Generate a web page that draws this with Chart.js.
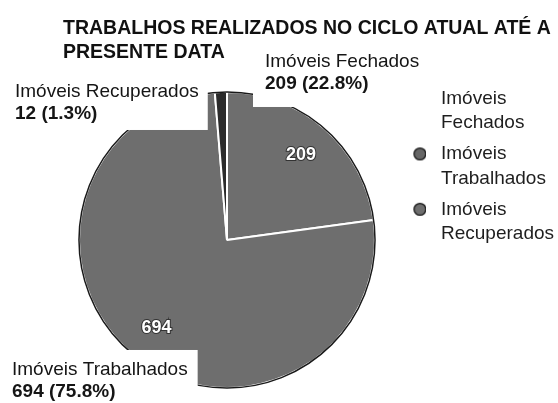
<!DOCTYPE html>
<html>
<head>
<meta charset="utf-8">
<script src="https://cdn.jsdelivr.net/npm/chart.js@4.4.1/dist/chart.umd.min.js"></script>
<style>
  html, body { margin: 0; padding: 0; background: #fff; }
  #wrap { width: 558px; height: 403px; }
</style>
</head>
<body>
<div id="wrap"><canvas id="cicloChart" width="558" height="403"></canvas></div>
<script>
const categorias = ['Imóveis Fechados', 'Imóveis Trabalhados', 'Imóveis Recuperados'];
const quantidades = [209, 694, 12];
const legendaLinhas = [['Imóveis', 'Fechados'], ['Imóveis', 'Trabalhados'], ['Imóveis', 'Recuperados']];
const tituloLinhas = ['TRABALHOS REALIZADOS NO CICLO ATUAL ATÉ A', 'PRESENTE DATA'];

const corFatia = ['#6e6e6e', '#6e6e6e', '#2b2b2b'];
const FONTE = '"Liberation Sans", Arial, sans-serif';
const TAM = 19;

const total = quantidades.reduce((a, b) => a + b, 0);
const pct = v => (v / total * 100).toFixed(1) + '%';

// caixas dos rótulos externos: deslocamento do texto em relação ao centro da pizza
// pad = [cima, direita, baixo, esquerda]
const caixasRotulo = [
    { dx: 38, dy: -173, pad: [10, 12, 14, 12] },
    { dx: -215, dy: 135, pad: [12, 10, 8, 12] },
    { dx: -212, dy: -143, pad: [10, 9, 7, 12] }
];

// marcador da legenda: círculo deslocado dentro de uma imagem mais larga
function marcador(cor) {
    const c = document.createElement('canvas');
    c.width = 24;
    c.height = 15;
    if (cor) {
        const g = c.getContext('2d');
        g.beginPath();
        g.arc(17.75, 7.5, 5.9, 0, Math.PI * 2);
        g.fillStyle = cor;
        g.fill();
        g.lineWidth = 1.4;
        g.strokeStyle = '#1a1a1a';
        g.stroke();
    }
    return c;
}
const marcadores = [marcador(null), marcador('#666666'), marcador('#6e6e6e')];

const rotulosPizza = {
    id: 'rotulosPizza',
    afterDatasetsDraw(chart) {
        const ctx = chart.ctx;
        const arcos = chart.getDatasetMeta(0).data;
        const { x: cx, y: cy, outerRadius: r } = arcos[0].getProps(['x', 'y', 'outerRadius'], true);

        // contorno escuro da pizza
        ctx.save();
        ctx.beginPath();
        ctx.arc(cx, cy, r, 0, Math.PI * 2);
        ctx.lineWidth = 1.5;
        ctx.strokeStyle = '#1a1a1a';
        ctx.stroke();

        // valores dentro das fatias maiores
        ctx.font = 'bold 18px ' + FONTE;
        ctx.textAlign = 'center';
        ctx.textBaseline = 'middle';
        arcos.forEach((arc, i) => {
            if (quantidades[i] / total < 0.05) return;
            const p = arc.getProps(['startAngle', 'endAngle'], true);
            const meio = (p.startAngle + p.endAngle) / 2;
            const tx = cx + Math.cos(meio) * r * 0.76;
            const ty = cy + Math.sin(meio) * r * 0.76;
            ctx.lineWidth = 2;
            ctx.strokeStyle = '#333';
            ctx.strokeText(String(quantidades[i]), tx, ty);
            ctx.fillStyle = '#fff';
            ctx.fillText(String(quantidades[i]), tx, ty);
        });

        // rótulos externos com fundo branco
        ctx.textAlign = 'left';
        ctx.textBaseline = 'alphabetic';
        caixasRotulo.forEach((caixa, i) => {
            const linha1 = categorias[i];
            const linha2 = quantidades[i] + ' (' + pct(quantidades[i]) + ')';
            const x = cx + caixa.dx;
            const y = cy + caixa.dy;
            ctx.font = TAM + 'px ' + FONTE;
            const w1 = ctx.measureText(linha1).width;
            ctx.font = 'bold ' + TAM + 'px ' + FONTE;
            const w2 = ctx.measureText(linha2).width;
            const [pt, pr, pb, pl] = caixa.pad;
            ctx.fillStyle = '#fff';
            ctx.fillRect(x - pl, y - 13 - pt, Math.max(w1, w2) + pl + pr, 13 + 22 + 4 + pt + pb);
            ctx.fillStyle = '#151515';
            ctx.font = TAM + 'px ' + FONTE;
            ctx.fillText(linha1, x, y);
            ctx.font = 'bold ' + TAM + 'px ' + FONTE;
            ctx.fillText(linha2, x, y + 22);
        });
        ctx.restore();
    }
};

new Chart(document.getElementById('cicloChart'), {
    type: 'pie',
    data: {
        labels: categorias,
        datasets: [{
            data: quantidades,
            backgroundColor: corFatia,
            borderColor: '#ffffff',
            borderWidth: 2
        }]
    },
    options: {
        responsive: false,
        animation: false,
        devicePixelRatio: 1,
        layout: {
            padding: { left: 63, right: 0, top: 0, bottom: 14 }
        },
        plugins: {
            title: {
                display: true,
                text: tituloLinhas,
                align: 'start',
                color: '#111',
                font: { family: FONTE, size: 19.5, weight: 'bold', lineHeight: 1.23 },
                padding: { top: 17, bottom: 26 }
            },
            legend: {
                position: 'right',
                align: 'start',
                maxWidth: 167,
                // título vazio só para empurrar os itens para baixo
                title: {
                    display: true,
                    text: '',
                    font: { size: 10, lineHeight: 1 },
                    padding: { top: 73, bottom: 0 }
                },
                labels: {
                    usePointStyle: true,
                    pointStyleWidth: 34.5,
                    padding: 6,
                    color: '#1e1e1e',
                    font: { family: FONTE, size: TAM, lineHeight: 1.3 },
                    generateLabels: () => legendaLinhas.map((linhas, i) => ({
                        text: linhas,
                        pointStyle: marcadores[i],
                        fillStyle: corFatia[i],
                        strokeStyle: 'transparent',
                        lineWidth: 0,
                        hidden: false,
                        index: i,
                        fontColor: '#1e1e1e'
                    }))
                }
            },
            tooltip: { enabled: false }
        }
    },
    plugins: [rotulosPizza]
});
</script>
</body>
</html>
